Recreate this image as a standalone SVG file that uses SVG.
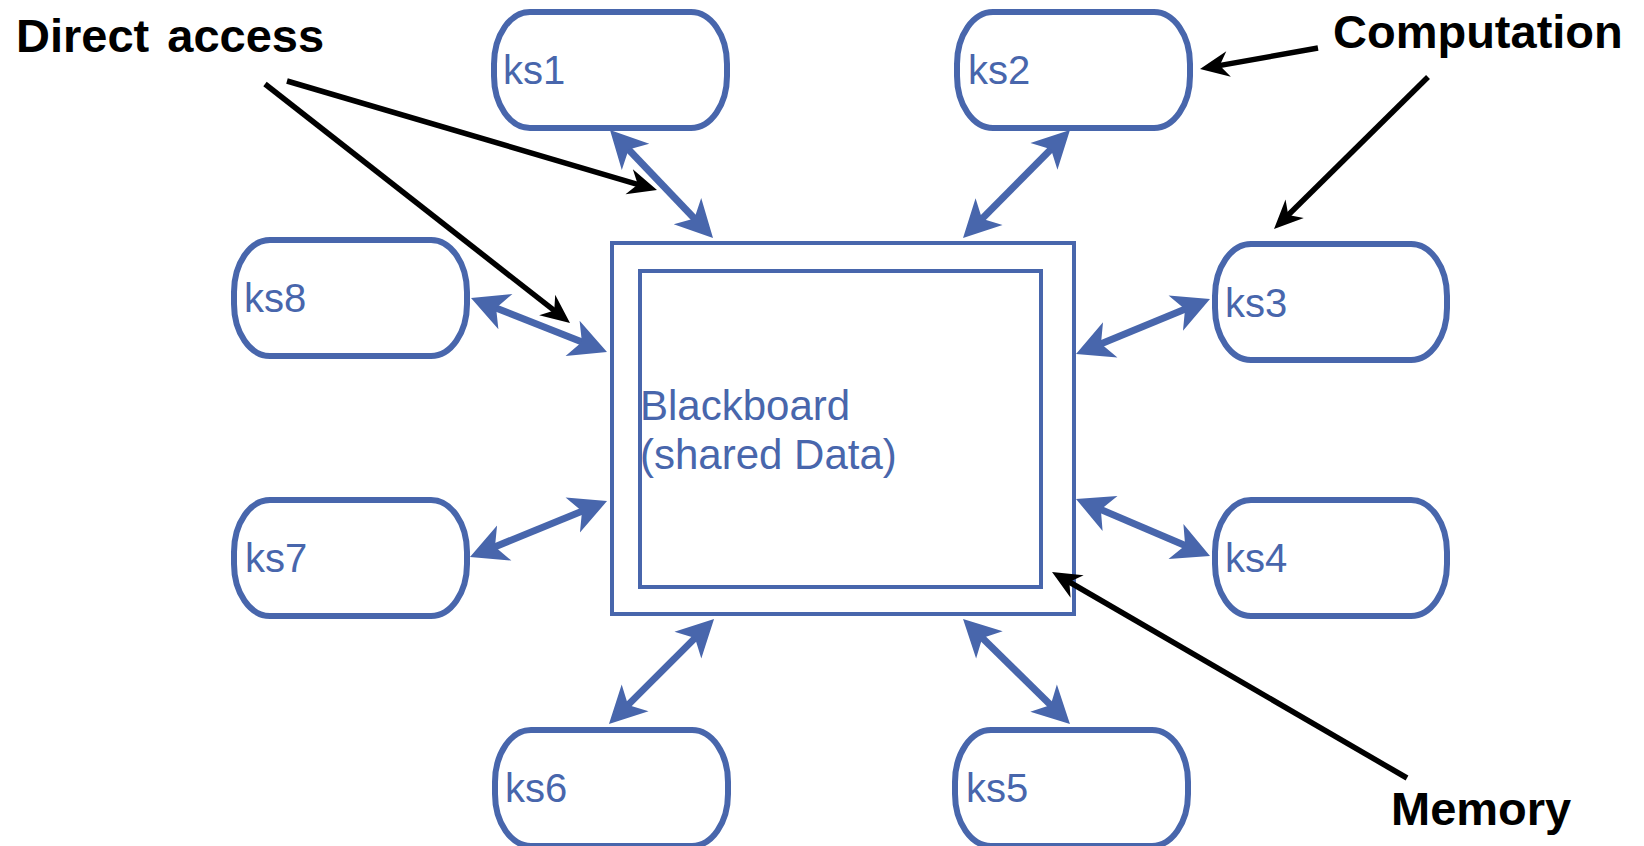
<svg xmlns="http://www.w3.org/2000/svg" width="1644" height="846" viewBox="0 0 1644 846">
<style>
.node{fill:#ffffff;stroke:#4866ac;stroke-width:6}
.lbl{font-family:"Liberation Sans",Arial,sans-serif;font-size:40px;fill:#4866ac}
.big{font-size:42px}
.board{fill:#ffffff;stroke:#4866ac;stroke-width:4}
.ann{font-family:"Liberation Sans",Arial,sans-serif;font-size:47px;font-weight:bold;fill:#000000}
.blue{stroke:#4866ac;stroke-width:7;fill:none;marker-start:url(#bh);marker-end:url(#bh)}
.blk{stroke:#000000;stroke-width:5.5;fill:none;marker-end:url(#kh)}
</style>
<defs>
<marker id="bh" viewBox="-40 -22 44 44" refX="-20" refY="0" markerWidth="44" markerHeight="44" markerUnits="userSpaceOnUse" orient="auto-start-reverse" overflow="visible">
<path d="M0,0 L-37,-19 L-27,0 L-37,19 Z" fill="#4866ac"/>
</marker>
<marker id="kh" viewBox="-32 -16 36 32" refX="-15" refY="0" markerWidth="36" markerHeight="32" markerUnits="userSpaceOnUse" orient="auto" overflow="visible">
<path d="M0,0 L-29,-13 L-20,0 L-29,13 Z" fill="#000000"/>
</marker>
</defs>
<rect width="1644" height="846" fill="#ffffff"/>
<g id="blackboard">
<rect class="board" x="612" y="243" width="462" height="371"/>
<rect class="board" x="640" y="271" width="401" height="316"/>
<text class="lbl big" x="640" y="420">Blackboard</text>
<text class="lbl big" x="640" y="469">(shared Data)</text>
</g>
<g id="ks1"><rect class="node" x="494" y="12" width="233" height="116" rx="36" ry="52"/><text class="lbl" x="503" y="84">ks1</text></g>
<g id="ks2"><rect class="node" x="957" y="12" width="233" height="116" rx="36" ry="52"/><text class="lbl" x="968" y="84">ks2</text></g>
<g id="ks3"><rect class="node" x="1215" y="244" width="232" height="116" rx="36" ry="52"/><text class="lbl" x="1225" y="317">ks3</text></g>
<g id="ks4"><rect class="node" x="1215" y="500" width="232" height="116" rx="36" ry="52"/><text class="lbl" x="1225" y="572">ks4</text></g>
<g id="ks5"><rect class="node" x="955" y="730" width="233" height="116" rx="36" ry="52"/><text class="lbl" x="966" y="802">ks5</text></g>
<g id="ks6"><rect class="node" x="495" y="730" width="233" height="116" rx="36" ry="52"/><text class="lbl" x="505" y="802">ks6</text></g>
<g id="ks7"><rect class="node" x="234" y="500" width="233" height="116" rx="36" ry="52"/><text class="lbl" x="245" y="572">ks7</text></g>
<g id="ks8"><rect class="node" x="234" y="240" width="233" height="116" rx="36" ry="52"/><text class="lbl" x="244" y="312">ks8</text></g>
<g id="label-direct"><text class="ann" x="16" y="52" word-spacing="5">Direct access</text></g>
<g id="label-computation"><text class="ann" x="1333" y="48">Computation</text></g>
<g id="label-memory"><text class="ann" x="1391" y="825">Memory</text></g>
<g id="connectors">
<line class="blue" x1="623.8" y1="144.5" x2="699.2" y2="223.5"/>
<line class="blue" x1="1055.9" y1="144.2" x2="977.1" y2="223.8"/>
<line class="blue" x1="1191.5" y1="306.6" x2="1094.5" y2="346.4"/>
<line class="blue" x1="1094.4" y1="506.8" x2="1191.6" y2="548.2"/>
<line class="blue" x1="977.3" y1="633" x2="1055.7" y2="710"/>
<line class="blue" x1="699.9" y1="633.1" x2="623.1" y2="709.9"/>
<line class="blue" x1="488.5" y1="549.4" x2="588.5" y2="508.6"/>
<line class="blue" x1="489.6" y1="305.4" x2="588.4" y2="344.6"/>
<line class="blk" x1="287" y1="81" x2="642.6" y2="185.8"/>
<line class="blk" x1="265" y1="84" x2="558.2" y2="313.7"/>
<line class="blk" x1="1318" y1="48" x2="1214.8" y2="66.4"/>
<line class="blk" x1="1428" y1="77" x2="1284.7" y2="218.5"/>
<line class="blk" x1="1407" y1="778" x2="1065" y2="579.5"/>
</g>
</svg>
